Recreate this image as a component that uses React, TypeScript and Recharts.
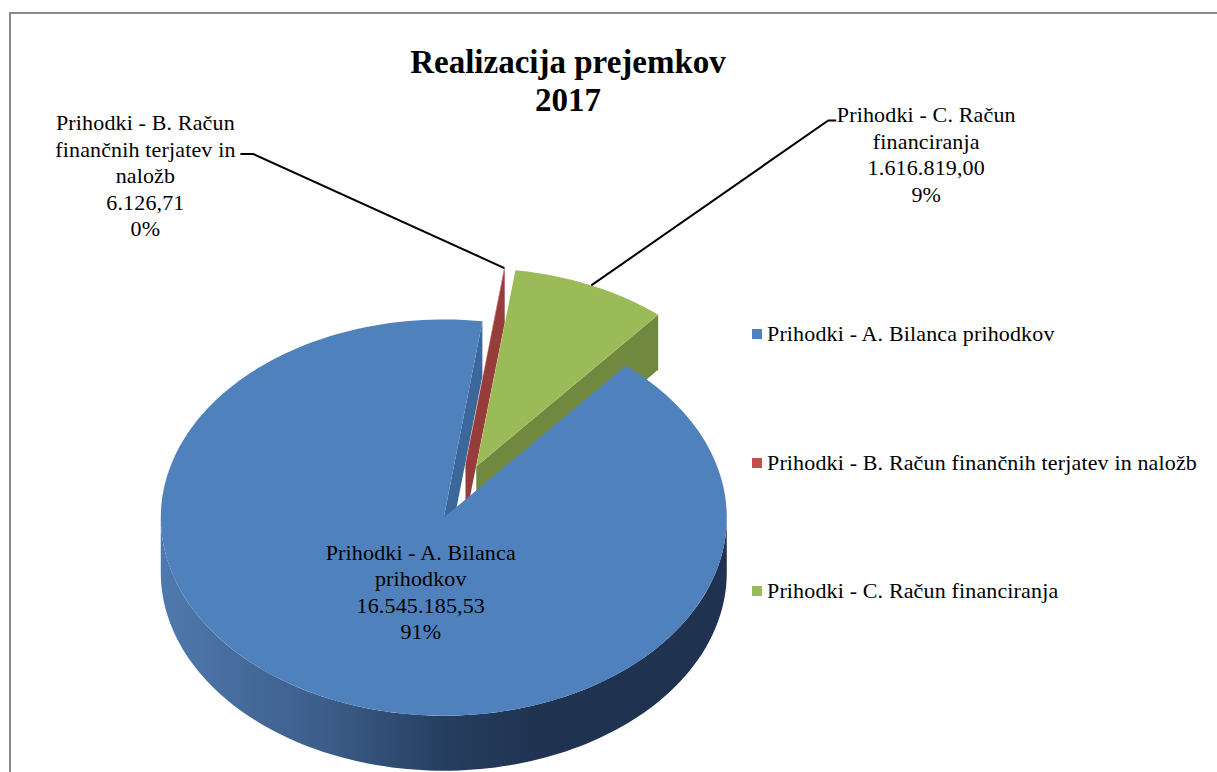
import { PieChart, Pie, Legend } from "recharts";

const CATEGORIES = [
  "Prihodki - A. Bilanca prihodkov",
  "Prihodki - B. Račun finančnih terjatev in naložb",
  "Prihodki - C. Račun financiranja",
];
const VALUES = [16545185.53, 6126.71, 1616819.0];
const TITLE_LINES = ["Realizacija prejemkov", "2017"];

const TOP_COLORS = ["#4f81bd", "#c0504d", "#9bbb59"];
const SIDE_COLORS = ["#3c679a", "#963c3a", "#71893f"];
// outer wall shading, left -> right
const WALL_STOPS = [
  ["#4f79ad", "#3b5c88", "#263e60", "#1f3250", "#1f3250"],
  ["#a9423f", "#8e3634", "#772d2b", "#6a2826", "#6a2826"],
  ["#86a24d", "#71893f", "#5e7335", "#52652e", "#52652e"],
];

const FONT = "'Liberation Serif', 'Times New Roman', serif";
const TEXT_SIZE = 22;
const TEXT_SPACING = 0.15;
const TILT = 0.7; // vertical squash of the tilted pie
const DEPTH = 55;
const EXPLODE = 40;
const LINE_H = 26.5;
const RAD = Math.PI / 180;

// label text offsets from the slice anchor (inside: slice centre, else rim at mid angle)
const LABEL_LAYOUT = [
  { inside: true, dx: -23, dy: 35 },
  { inside: false, dx: -359, dy: -145, elbow: [-251, -114], tail: -13 },
  { inside: false, dx: 335, dy: -170, elbow: [237, -165], tail: 8 },
];

const data = CATEGORIES.map((name, i) => ({ name, value: VALUES[i] }));

const fmtNum = (v: number) => {
  const [int, dec] = v.toFixed(2).split(".");
  return int.replace(/\B(?=(\d{3})+(?!\d))/g, ".") + "," + dec;
};

const wrap = (text: string, max: number) => {
  const lines: string[] = [];
  let cur = "";
  for (const w of text.split(" ")) {
    if (cur && (cur + " " + w).length > max) {
      lines.push(cur);
      cur = w;
    } else cur = cur ? cur + " " + w : w;
  }
  if (cur) lines.push(cur);
  return lines;
};

const center = (p: any): [number, number] => [
  p.cx + EXPLODE * Math.cos(p.midAngle * RAD),
  p.cy - EXPLODE * TILT * Math.sin(p.midAngle * RAD),
];

const rim = (ox: number, oy: number, r: number, a: number): [number, number] => [
  ox + r * Math.cos(a * RAD),
  oy - r * TILT * Math.sin(a * RAD),
];

const arc = (ox: number, oy: number, r: number, a1: number, a2: number, dy = 0) => {
  const n = Math.max(2, Math.ceil(Math.abs(a2 - a1) / 1.5));
  const pts: string[] = [];
  for (let k = 0; k <= n; k++) {
    const [x, y] = rim(ox, oy, r, a1 + ((a2 - a1) * k) / n);
    pts.push(`${x.toFixed(2)},${(y + dy).toFixed(2)}`);
  }
  return pts;
};

function renderSides(p: any) {
  const i = p.index;
  const [ox, oy] = center(p);
  const r = p.outerRadius;
  const face = (a: number) => {
    const [x, y] = rim(ox, oy, r, a);
    return `M${ox},${oy} L${x},${y} L${x},${y + DEPTH} L${ox},${oy + DEPTH} Z`;
  };
  const parts = [];
  if (Math.cos(p.startAngle * RAD) < 0)
    parts.push(<path key="s" d={face(p.startAngle)} fill={SIDE_COLORS[i]} />);
  if (Math.cos(p.endAngle * RAD) > 0)
    parts.push(<path key="e" d={face(p.endAngle)} fill={SIDE_COLORS[i]} />);
  const lo = Math.min(p.startAngle, p.endAngle);
  const hi = Math.max(p.startAngle, p.endAngle);
  for (let k = Math.floor(lo / 360) - 1; k <= Math.ceil(hi / 360); k++) {
    const a1 = Math.max(lo, 180 + 360 * k);
    const a2 = Math.min(hi, 360 + 360 * k);
    if (a2 <= a1) continue;
    const top = arc(ox, oy, r, a1, a2);
    const bottom = arc(ox, oy, r, a2, a1, DEPTH);
    parts.push(
      <path key={"w" + k} d={`M${top.join(" L")} L${bottom.join(" L")} Z`} fill={`url(#wall-${i})`} />
    );
  }
  return (
    <g>
      <defs>
        <linearGradient id={`wall-${i}`} gradientUnits="userSpaceOnUse" x1={ox - r} x2={ox + r} y1={0} y2={0}>
          {WALL_STOPS[i].map((c, k) => (
            <stop key={k} offset={[0, 0.3, 0.5, 0.68, 1][k]} stopColor={c} />
          ))}
        </linearGradient>
      </defs>
      {parts}
    </g>
  );
}

function renderTop(p: any) {
  const [ox, oy] = center(p);
  const pts = arc(ox, oy, p.outerRadius, p.startAngle, p.endAngle);
  return <path d={`M${ox},${oy} L${pts.join(" L")} Z`} fill={TOP_COLORS[p.index]} />;
}

function renderLabel(p: any) {
  const L = LABEL_LAYOUT[p.index];
  const [ox, oy] = center(p);
  const [ax, ay] = L.inside ? [ox, oy] : rim(ox, oy, p.outerRadius, p.midAngle);
  const name = p.payload?.name ?? p.name;
  const lines = [...wrap(name, 21), fmtNum(p.value), `${Math.round(p.percent * 100)}%`];
  const tx = ax + L.dx;
  const ty = ay + L.dy;
  return (
    <g>
      {L.elbow && (
        <polyline
          points={`${ax},${ay} ${ax + L.elbow[0]},${ay + L.elbow[1]} ${ax + L.elbow[0] + L.tail},${ay + L.elbow[1]}`}
          fill="none"
          stroke="#000"
          strokeWidth={2}
        />
      )}
      <text
        textAnchor="middle"
        fontFamily={FONT}
        fontSize={TEXT_SIZE}
        letterSpacing={TEXT_SPACING}
        fill="#000"
      >
        {lines.map((s, k) => (
          <tspan key={k} x={tx} y={ty + 7 + k * LINE_H}>
            {s}
          </tspan>
        ))}
      </text>
    </g>
  );
}

const renderLegend = () => (
  <div style={{ display: "flex", flexDirection: "column" }}>
    {CATEGORIES.map((c, i) => (
      <div key={c} style={{ height: 128.5, display: "flex", alignItems: "flex-start" }}>
        <span style={{ width: 10, height: 10, background: TOP_COLORS[i], marginTop: 8, marginRight: 5, flex: "none" }} />
        <span
          style={{
            fontFamily: FONT,
            fontSize: TEXT_SIZE,
            letterSpacing: TEXT_SPACING,
            lineHeight: "26px",
            color: "#000",
            whiteSpace: "nowrap",
          }}
        >
          {c}
        </span>
      </div>
    ))}
  </div>
);

export default function App() {
  const pieProps = {
    data,
    dataKey: "value",
    nameKey: "name",
    cx: 460,
    cy: 492,
    outerRadius: 283,
    startAngle: 50,
    endAngle: -310,
    fill: "none",
    stroke: "none",
    isAnimationActive: false,
    labelLine: false,
  };
  return (
    <div style={{ position: "fixed", inset: 0, overflow: "hidden", background: "#fff" }}>
      <div
        style={{
          position: "absolute",
          left: 9,
          top: 12,
          width: 1400,
          height: 1000,
          border: "2px solid #878787",
        }}
      />
      <div
        style={{
          position: "absolute",
          left: 0,
          top: 43,
          width: 1136,
          textAlign: "center",
          fontFamily: FONT,
          fontWeight: "bold",
          fontSize: 33,
          lineHeight: "38px",
          color: "#000",
        }}
      >
        {TITLE_LINES.map((t) => (
          <div key={t}>{t}</div>
        ))}
      </div>
      <div style={{ position: "absolute", left: 0, top: 0 }}>
        <PieChart width={1217} height={772} margin={{ top: 0, right: 0, bottom: 0, left: 0 }}>
          <Pie {...pieProps} label={renderSides} />
          <Pie {...pieProps} label={renderTop} legendType="none" />
          <Pie {...pieProps} label={renderLabel} legendType="none" />
          <Legend
            layout="vertical"
            align="right"
            verticalAlign="top"
            content={renderLegend}
            wrapperStyle={{ left: 752, top: 321, right: "auto", width: 460 }}
          />
        </PieChart>
      </div>
    </div>
  );
}
